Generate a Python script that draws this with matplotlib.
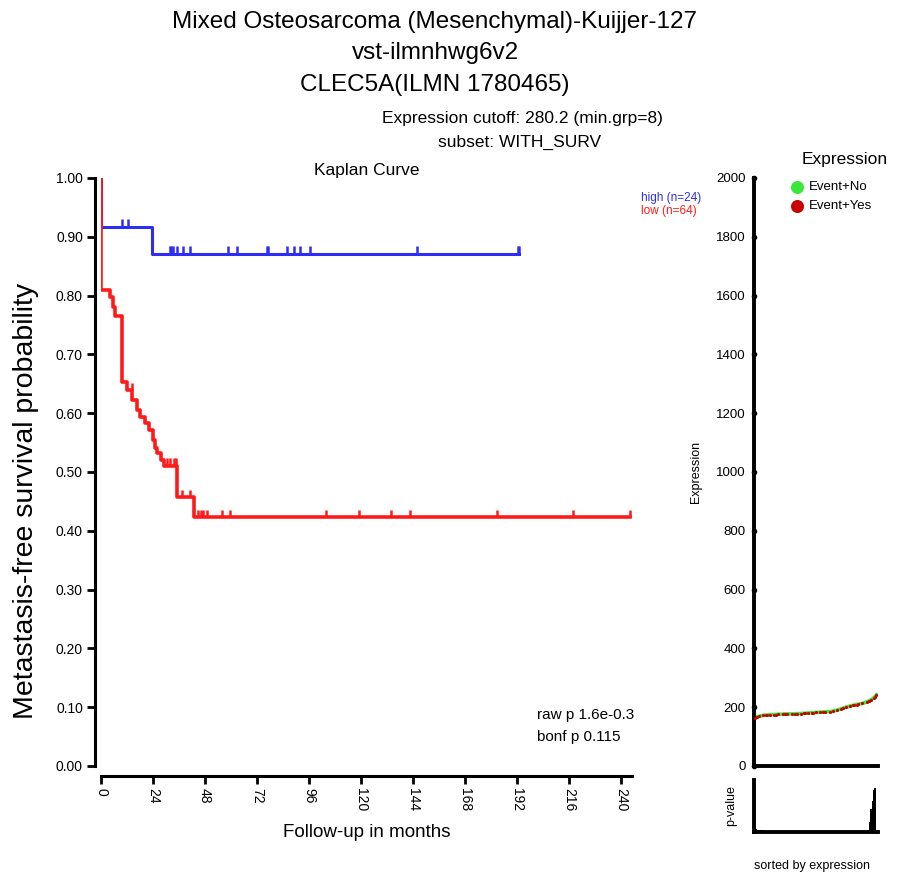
import numpy as np
import matplotlib
matplotlib.use("Agg")
import matplotlib.pyplot as plt

plt.rcParams["font.family"] = ["Liberation Sans", "DejaVu Sans"]

# ── Kaplan-Meier data (months, survival) ─────────────────────────────────────
high_t = [0, 0, 23.5, 193]
high_s = [1.0, 0.917, 0.871, 0.871]
high_cens = [9.7, 12.5, 31.8, 32.5, 33.2, 35.0, 37.8, 41.0, 58.6, 62.8,
             76.6, 77.2, 85.8, 89.0, 91.8, 96.4, 146.0, 192.4, 192.8]

low_t = [0, 0, 4.0, 5.5, 6.5, 9.7, 12.0, 14.5, 16.5, 18.0, 20.5, 22.0,
         24.0, 25.0, 26.0, 27.5, 29.0, 35.2, 43.0, 244]
low_s = [1.0, 0.81, 0.797, 0.781, 0.766, 0.653, 0.639, 0.622, 0.605, 0.594,
         0.584, 0.571, 0.554, 0.541, 0.532, 0.52, 0.51, 0.457, 0.423, 0.423]
low_cens = [14.3, 30.5, 32.0, 33.5, 34.5, 37.4, 41.0, 44.8, 46.0, 47.0, 49.0,
            55.8, 59.5, 104.0, 119.0, 134.0, 142.6, 182.7, 218.0, 244.0]

# ── Expression (sorted) with event status, and p-value trace ────────────────
expr = [163, 166, 168, 169, 170, 171, 172, 172, 173, 173,
        174, 174, 174, 175, 175, 175, 176, 176, 176, 176,
        176, 177, 177, 177, 177, 177, 177, 177, 177, 177,
        178, 178, 178, 178, 179, 179, 179, 180, 180, 180,
        181, 181, 181, 182, 182, 182, 183, 183, 183, 184,
        184, 184, 185, 185, 185, 186, 187, 188, 189, 190,
        192, 193, 195, 196, 198, 200, 201, 202, 204, 205,
        206, 207, 208, 209, 210, 211, 212, 213, 214, 216,
        218, 220, 222, 225, 228, 232, 236, 242]
event = [1, 0, 1, 1, 0, 0, 1, 0, 1, 1,
         0, 1, 0, 0, 1, 1, 0, 1, 0, 0,
         1, 0, 1, 1, 0, 0, 0, 1, 0, 1,
         1, 0, 0, 1, 0, 1, 1, 0, 1, 0,
         0, 1, 1, 0, 1, 0, 0, 1, 0, 1,
         1, 0, 0, 0, 1, 0, 1, 0, 0, 1,
         0, 0, 1, 1, 0, 1, 0, 0, 1, 0,
         1, 1, 0, 1, 1, 0, 0, 1, 0, 0,
         1, 0, 1, 1, 0, 1, 1, 1]
pval = [0.05, 0.05, 0.04, 0.04, 0.03, 0.03, 0.03, 0.02] + [0.01] * 74 + \
       [0.2, 0.45, 0.6, 0.8, 0.85, 0.95]

RED = "#ff1a1a"
BLUE = "#2d2df5"
GREEN = "#3ae83a"
DRED = "#c80000"


def level_at(ts, ss, t):
    i = np.searchsorted(ts, t, side="right") - 1
    return ss[i]


fig = plt.figure(figsize=(8.98, 8.77), dpi=100, facecolor="white")

# ── Kaplan curve panel ──────────────────────────────────────────────────────
ax = fig.add_axes([0.1125, 0.1266, 0.591, 0.6705])
ax.plot(high_t, high_s, drawstyle="steps-post", color=BLUE, lw=2.2)
ax.plot(low_t, low_s, drawstyle="steps-post", color=RED, lw=2.6)
for cens, ts, ss, col in [(high_cens, high_t, high_s, BLUE),
                          (low_cens, low_t, low_s, RED)]:
    lv = np.array([level_at(ts, ss, c) for c in cens])
    ax.vlines(cens, lv, lv + 0.013, color=col, lw=1.8)

ax.set_xlim(0, 245)
ax.set_ylim(0, 1.0)
ax.set_xticks(np.arange(0, 241, 24))
ax.set_xticklabels([str(v) for v in range(0, 241, 24)], fontsize=11.5)
ax.set_yticks(np.arange(0, 1.01, 0.1))
ax.set_yticklabels([f"{v:.2f}" for v in np.arange(0, 1.01, 0.1)], fontsize=11.5)
for s in ["top", "right"]:
    ax.spines[s].set_visible(False)
ax.spines["left"].set_position(("outward", 4))
ax.spines["bottom"].set_position(("outward", 7))
ax.spines["left"].set_linewidth(2.2)
ax.spines["bottom"].set_linewidth(2.2)
ax.tick_params(axis="both", width=2, length=6, pad=3)
ax.tick_params(axis="x", labelrotation=-90)
ax.set_xlabel("Follow-up in months", fontsize=13.5, labelpad=9)
ax.set_ylabel("Metastasis-free survival probability", fontsize=20.5)
ax.yaxis.set_label_coords(-0.116, 0.45)
ax.set_title("Kaplan Curve", fontsize=12.5, pad=2)

ax.text(0.822, 0.087, "raw p 1.6e-0.3", transform=ax.transAxes,
        fontsize=11, ha="left", va="center")
ax.text(0.822, 0.05, "bonf p 0.115", transform=ax.transAxes,
        fontsize=11, ha="left", va="center")

fig.text(641 / 898, 1 - 198 / 877, "high (n=24)", color=BLUE, fontsize=8.5,
         ha="left", va="center")
fig.text(641 / 898, 1 - 211 / 877, "low (n=64)", color=RED, fontsize=8.5,
         ha="left", va="center")

# ── Expression panel ────────────────────────────────────────────────────────
idx = np.arange(1, len(expr) + 1)
ex = fig.add_axes([0.8396, 0.1266, 0.138, 0.6705])
ex.plot(idx, expr, color=GREEN, lw=2.6, zorder=2)
ev = np.array(event) == 1
ex.scatter(idx[ev], np.array(expr)[ev], s=5, color=DRED, zorder=3, lw=0)
ex.set_xlim(0.5, 89)
ex.set_ylim(0, 2000)
yt = np.arange(0, 2001, 200)
ex.set_yticks(yt)
ex.set_yticklabels([str(v) for v in yt], fontsize=9.5)
ex.set_xticks([])
ex.tick_params(axis="y", length=0, pad=6)
ex.plot(np.zeros_like(yt), yt, "o", ms=3, color="black",
        transform=ex.get_yaxis_transform(), clip_on=False, zorder=4)
for s in ["top", "right"]:
    ex.spines[s].set_visible(False)
ex.spines["left"].set_linewidth(2.8)
ex.spines["bottom"].set_linewidth(2.8)
ex.set_ylabel("Expression", fontsize=9, labelpad=10)
ex.set_title("Expression", fontsize=12.5, pad=10, loc="right", x=1.08)

ex.scatter([0.35], [0.985], s=70, color=GREEN, transform=ex.transAxes, clip_on=False)
ex.scatter([0.35], [0.953], s=70, color=DRED, transform=ex.transAxes, clip_on=False)
ex.text(0.44, 0.985, "Event+No", transform=ex.transAxes, fontsize=9.5, va="center")
ex.text(0.44, 0.953, "Event+Yes", transform=ex.transAxes, fontsize=9.5, va="center")

# ── p-value panel ───────────────────────────────────────────────────────────
pv = fig.add_axes([0.8396, 0.0513, 0.138, 0.0593])
pv.fill_between(idx, 0, pval, color="black", step="mid", lw=0)
pv.set_xlim(0.5, 89)
pv.set_ylim(0, 1)
pv.set_xticks([])
pv.set_yticks([])
for s in ["top", "right"]:
    pv.spines[s].set_visible(False)
pv.spines["left"].set_linewidth(2.8)
pv.spines["bottom"].set_linewidth(2.8)
pv.set_ylabel("p-value", fontsize=9, labelpad=12)
fig.text(812 / 898, 1 - 866 / 877, "sorted by expression", fontsize=9,
         ha="center", va="center")

# ── titles ──────────────────────────────────────────────────────────────────
fig.text(435 / 898, 1 - 22 / 877, "Mixed Osteosarcoma (Mesenchymal)-Kuijjer-127",
         fontsize=17.5, ha="center", va="center")
fig.text(435 / 898, 1 - 53 / 877, "vst-ilmnhwg6v2", fontsize=17.5,
         ha="center", va="center")
fig.text(435 / 898, 1 - 85 / 877, "CLEC5A(ILMN 1780465)", fontsize=17.5,
         ha="center", va="center")
fig.text(522 / 898, 1 - 118 / 877, "Expression cutoff: 280.2 (min.grp=8)",
         fontsize=12.5, ha="center", va="center")
fig.text(520 / 898, 1 - 142 / 877, "subset: WITH_SURV", fontsize=12.5,
         ha="center", va="center")

fig.savefig("out.png", dpi=100, facecolor="white")
